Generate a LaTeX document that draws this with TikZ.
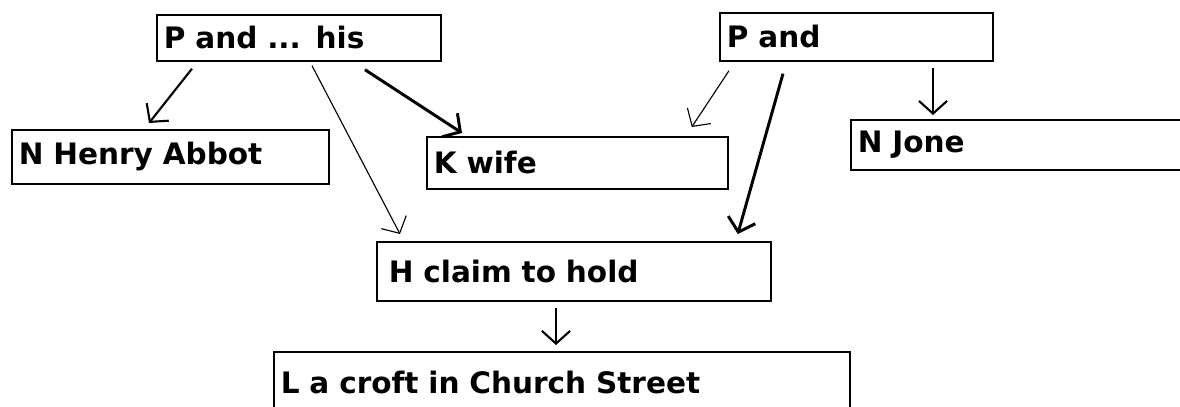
\documentclass[tikz,border=0pt]{standalone}
\usepackage{fontspec}
\setmainfont{DejaVu Sans}
\usetikzlibrary{positioning,arrows.meta}
\tikzset{box node/.style={rectangle,draw,line width=1.2pt,inner xsep=0.175cm,inner ysep=0pt,anchor=north west,align=left,font=\bfseries\fontsize{21}{25}\selectfont},
	V tip/.style={-{Straight Barb[length=9pt,width=20pt]}},}

\begin{document}
\begin{tikzpicture}[x=0.025cm,y=-0.025cm]
			\useasboundingbox (0,0) rectangle (1180,407);
			\clip (0,0) rectangle (1180,407);

			\node[box node, text width=6.75cm, minimum height=1.15cm] (pa) at (156,14) {P and ... his};
			\node[box node, text width=7.575cm, minimum height=1.35cm] (ha) at (11,129) {N Henry Abbot};
			\node[box node, text width=7.175cm, minimum height=1.3cm] (kw) at (426,136) {K wife};
			\node[box node, text width=6.475cm, minimum height=1.2cm] (pb) at (719,12) {P and};
			\node[box node, text width=8.15cm, minimum height=1.25cm] (nj) at (850,119) {N Jone};
			\node[box node, inner xsep=0.3cm, text width=9.25cm, minimum height=1.475cm] (hc) at (376,241) {H claim to hold};
			\node[box node, text width=14.05cm, minimum height=1.55cm] (lc) at (273,351) {L a croft in Church Street};

			\path[draw, line width=1.5pt]
				([shift={(36,7)}]pa.south west) edge[V tip] ([shift={(138,-6)}]ha.north west)
				([shift={(214,6)}]pb.south west) edge[V tip] ([shift={(83,-4)}]nj.north west)
				([shift={(180,6)}]hc.south west) edge[V tip] ([shift={(283,-6)}]lc.north west);
			\path[draw, line width=0.8pt]
				([shift={(156,4)}]pa.south west) edge[V tip] ([shift={(24,-7)}]hc.north west)
				([shift={(10,9)}]pb.south west) edge[V tip] ([shift={(-37,-9)}]kw.north east);
			\path[draw, line width=2.1pt]
				([shift={(209,8)}]pa.south west) edge[V tip] ([shift={(36,-3)}]kw.north west)
				([shift={(64,12)}]pb.south west) edge[V tip] ([shift={(-34,-7)}]hc.north east);
		\end{tikzpicture}
\end{document}
